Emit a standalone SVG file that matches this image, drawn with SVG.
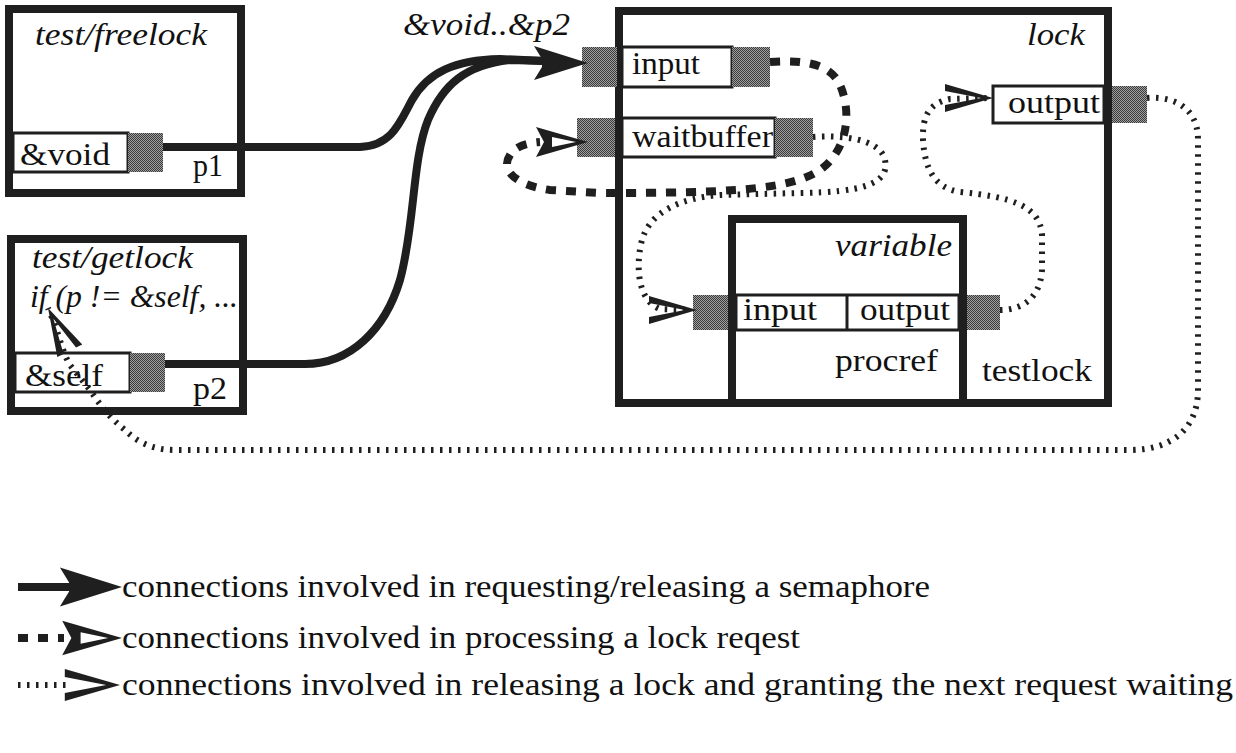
<svg xmlns="http://www.w3.org/2000/svg" xmlns:xlink="http://www.w3.org/1999/xlink" width="1236" height="753" viewBox="0 0 1236 753">
<style>
.box{fill:#fff;stroke:#1f1f1f;stroke-width:8}
.port{fill:#fff;stroke:#1f1f1f;stroke-width:3}
.gray{fill:url(#dither)}
.t{font-family:"Liberation Serif","Times New Roman",serif;font-size:32px;fill:#111}
.i{font-style:italic}
.lg{font-family:"Liberation Serif","Times New Roman",serif;font-size:32px;fill:#111}
.solid{fill:none;stroke:#1f1f1f;stroke-width:8;stroke-linecap:butt}
.dash{fill:none;stroke:#1f1f1f;stroke-width:8;stroke-dasharray:10 10}
.dot{fill:none;stroke:#1f1f1f;stroke-width:6;stroke-dasharray:2.5 6.5}
.head{fill:#1f1f1f}
</style>
<defs>
<pattern id="dither" width="2" height="2" patternUnits="userSpaceOnUse">
<rect width="2" height="2" fill="#a0a0a0"/>
<rect width="1" height="1" fill="#3a3a3a"/>
<rect x="1" y="1" width="1" height="1" fill="#3a3a3a"/>
</pattern>
<path id="solidHead" class="head" d="M0,0 L-54,-17 L-46,-4 L-46,4 L-54,17 Z"/>
<path id="dashHead" class="head" fill-rule="evenodd" d="M0,0 L-52,-15 L-44,0 L-52,15 Z M-12,0 L-36,-5 L-36,5 Z"/>
<path id="dotHead" class="head" d="M0,0 L-48,-14 L-48,-7 L-12,0 L-48,7 L-48,14 Z"/>
</defs>
<rect width="1236" height="753" fill="#fff"/>

<g id="freelock">
<rect class="box" x="9" y="9" width="232" height="184"/>
<text class="t i" x="35" y="45" textLength="172" lengthAdjust="spacingAndGlyphs">test/freelock</text>
<rect class="port" x="13" y="133" width="115" height="39"/>
<text class="t" x="20" y="165" textLength="90" lengthAdjust="spacingAndGlyphs">&amp;void</text>
<rect class="gray" x="128" y="133" width="35" height="39"/>
<text class="t" x="193" y="176" textLength="30" lengthAdjust="spacingAndGlyphs">p1</text>
</g>

<g id="getlock">
<rect class="box" x="11" y="239" width="232" height="172"/>
<text class="t i" x="32" y="268" textLength="161" lengthAdjust="spacingAndGlyphs">test/getlock</text>
<text class="t i" x="30" y="307" textLength="208" lengthAdjust="spacingAndGlyphs">if (p != &amp;self, ...</text>
<rect class="port" x="15" y="353" width="115" height="39"/>
<text class="t" x="25" y="386" textLength="78" lengthAdjust="spacingAndGlyphs">&amp;self</text>
<rect class="gray" x="130" y="353" width="35" height="39"/>
<text class="t" x="193" y="399" textLength="34" lengthAdjust="spacingAndGlyphs">p2</text>
</g>

<g id="lock">
<rect class="box" x="619" y="11" width="489" height="392"/>
<text class="t i" x="1027" y="45" textLength="58" lengthAdjust="spacingAndGlyphs">lock</text>
<rect class="port" x="622" y="47" width="110" height="40"/>
<text class="t" x="632" y="74" textLength="68" lengthAdjust="spacingAndGlyphs">input</text>
<rect class="gray" x="582" y="47" width="35" height="40"/>
<rect class="gray" x="732" y="47" width="38" height="40"/>
<rect class="port" x="622" y="118" width="153" height="39"/>
<text class="t" x="632" y="147" textLength="141" lengthAdjust="spacingAndGlyphs">waitbuffer</text>
<rect class="gray" x="577" y="118" width="38" height="39"/>
<rect class="gray" x="775" y="118" width="38" height="39"/>
<rect class="port" x="993" y="86" width="111" height="37"/>
<text class="t" x="1008" y="113" textLength="92" lengthAdjust="spacingAndGlyphs">output</text>
<rect class="gray" x="1112" y="86" width="35" height="37"/>
<text class="t" x="982" y="381" textLength="110" lengthAdjust="spacingAndGlyphs">testlock</text>
</g>

<g id="variable">
<rect class="box" x="732" y="219" width="231" height="184"/>
<text class="t i" x="835" y="256" textLength="117" lengthAdjust="spacingAndGlyphs">variable</text>
<rect class="port" x="736" y="295" width="223" height="35"/>
<line x1="847" y1="295" x2="847" y2="330" stroke="#1f1f1f" stroke-width="3"/>
<text class="t" x="743" y="320" textLength="74" lengthAdjust="spacingAndGlyphs">input</text>
<text class="t" x="860" y="320" textLength="90" lengthAdjust="spacingAndGlyphs">output</text>
<rect class="gray" x="693" y="295" width="35" height="35"/>
<rect class="gray" x="967" y="295" width="33" height="35"/>
<text class="t" x="835" y="371" textLength="103" lengthAdjust="spacingAndGlyphs">procref</text>
</g>

<text class="t i" x="403" y="35" textLength="167" lengthAdjust="spacingAndGlyphs">&amp;void..&amp;p2</text>

<g id="connectors">
<path class="solid" d="M163,147 L360,147 C392,146 400,122 412,100 C428,72 455,60 500,59 L545,61"/>
<path class="solid" d="M165,364 L305,364 C350,364 385,330 400,280 C415,225 412,160 428,120 C443,85 465,65 510,60 L545,61"/>
<use href="#solidHead" xlink:href="#solidHead" transform="translate(588,63)"/>

<path class="dash" d="M770,62 C800,60 830,62 840,85 C852,112 848,150 820,170 C790,190 730,193 600,193 L550,190 C515,185 500,170 510,155 C515,147 525,143 540,142"/>
<use href="#dashHead" xlink:href="#dashHead" transform="translate(588,142)"/>

<path class="dot" d="M813,137 C840,135 880,138 885,160 C890,185 860,192 800,193 L720,195 C680,198 650,212 642,240 C636,262 636,300 660,309 L690,310"/>
<use href="#dotHead" xlink:href="#dotHead" transform="translate(697,310)"/>

<path class="dot" d="M1000,310 C1020,310 1040,300 1042,270 L1042,235 C1040,205 1010,197 960,192 C935,188 925,170 923,140 C922,115 930,103 950,99 L990,98"/>
<use href="#dotHead" xlink:href="#dotHead" transform="translate(993,98)"/>

<path class="dot" d="M1147,98 C1170,96 1198,105 1198,140 L1198,390 C1198,430 1170,450 1130,450 L175,450 C150,450 135,440 125,430 C110,418 100,405 90,390 L70,365 C64,355 60,340 55,325 L48,308"/>
<use href="#dotHead" xlink:href="#dotHead" transform="translate(48,308) rotate(-117)"/>
</g>

<g id="legend">
<line class="solid" x1="18" y1="587" x2="80" y2="587"/>
<use href="#solidHead" xlink:href="#solidHead" transform="translate(122,587) scale(1.15)"/>
<text class="lg" x="122" y="597" textLength="808" lengthAdjust="spacingAndGlyphs">connections involved in requesting/releasing a semaphore</text>
<line class="dash" x1="18" y1="638" x2="64" y2="638" stroke-dasharray="13 10"/>
<use href="#dashHead" xlink:href="#dashHead" transform="translate(122,638) scale(1.15)"/>
<text class="lg" x="122" y="648" textLength="678" lengthAdjust="spacingAndGlyphs">connections involved in processing a lock reqest</text>
<line class="dot" x1="18" y1="685" x2="70" y2="685"/>
<use href="#dotHead" xlink:href="#dotHead" transform="translate(120,685) scale(1.15)"/>
<text class="lg" x="122" y="695" textLength="1111" lengthAdjust="spacingAndGlyphs">connections involved in releasing a lock and granting the next request waiting</text>
</g>
</svg>
